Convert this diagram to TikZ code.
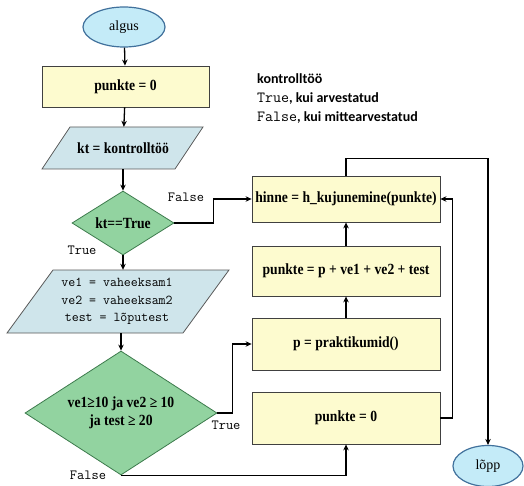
\documentclass[tikz,border=0pt]{standalone}
\usepackage{fontspec}
\setmainfont{Liberation Serif}
\newfontfamily\boxfont{Liberation Serif}[FakeStretch=0.88]
\newfontfamily\notefont{Carlito}
\usetikzlibrary{shapes.geometric,arrows.meta}

\definecolor{termfill}{HTML}{C4EBF8}
\definecolor{termline}{HTML}{41719C}
\definecolor{procfill}{HTML}{FDFBCF}
\definecolor{procline}{HTML}{404040}
\definecolor{iofill}{HTML}{CFE5EB}
\definecolor{ioline}{HTML}{595959}
\definecolor{decfill}{HTML}{92D3A0}
\definecolor{decline}{HTML}{3C7A4C}

\tikzset{
  x=1pt, y=-1pt,
  boxtext/.style={font=\fontsize{15.5}{18}\selectfont\boxfont\bfseries},
  term/.style={ellipse, draw=termline, fill=termfill, line width=1.2pt,
    minimum width=82pt, minimum height=40pt, inner sep=0pt,
    font=\fontsize{14}{16}\selectfont},
  proc/.style={rectangle, draw=procline, fill=procfill, line width=0.8pt,
    minimum width=188pt, inner sep=0pt, boxtext},
  iobox/.style={fill=iofill, draw=ioline, line width=0.8pt},
  iotext/.style={rectangle, inner sep=0pt, align=center},
  dec/.style={diamond, draw=decline, fill=decfill, line width=0.8pt, inner sep=0pt,
    boxtext, align=center},
  conn/.style={draw, line width=1.3pt, -{Stealth[length=6pt,width=5.5pt]}},
  lab/.style={font=\fontsize{14}{16}\selectfont\ttfamily, inner sep=0pt},
  note/.style={anchor=base west, inner sep=0pt, font=\fontsize{14}{16}\selectfont\notefont\bfseries}
}

\begin{document}
\begin{tikzpicture}
\useasboundingbox (0,0) rectangle (524,486);

% left column
\node[term] (start) at (124,27) {algus};
\node[proc, minimum width=167pt, minimum height=41pt] (init) at (125.5,86.5) {punkte = 0};

\path[iobox] (70,127) -- (203,127) -- (175,169) -- (42,169) -- cycle;
\node[iotext, minimum height=42pt, boxtext] (kt) at (123,148) {kt = kontrolltöö};

\node[dec, minimum width=102pt, minimum height=64pt, shape aspect=1.6] (check) at (123,223) {kt==True};

\path[iobox] (53,270) -- (229,270) -- (183,333) -- (7,333) -- cycle;
\node[iotext, minimum height=63pt, font=\fontsize{13.5}{17.5}\selectfont\ttfamily] (marks) at (117,301.5)
  {ve1 = vaheeksam1\\ve2 = vaheeksam2\\test = lõputest};

\node[dec, minimum width=192pt, minimum height=124pt, shape aspect=1.55] (cond) at (121,413)
  {ve1≥10 ja ve2 ≥ 10\\ja test ≥ 20};

% right column
\node[proc, minimum height=46pt] (grade) at (346,199) {hinne = h\_kujunemine(punkte)};
\node[proc, minimum height=50pt] (sum) at (346,271) {punkte = p + ve1 + ve2 + test};
\node[proc, minimum height=52pt] (prac) at (346,344) {p = praktikumid()};
\node[proc, minimum height=52pt] (zero) at (346,418) {punkte = 0};
\node[term, minimum width=70pt, minimum height=41pt] (stop) at (488,466) {lõpp};

% explanation of kt
\node[note] (n1) at (257,84) {kontrolltöö};
\node[note] (n2) at (257,103) {{\fontsize{15.5}{16}\selectfont\ttfamily\mdseries True}, kui arvestatud};
\node[note] (n3) at (257,122) {{\fontsize{15.5}{16}\selectfont\ttfamily\mdseries False}, kui mittearvestatud};

% branch labels
\node[lab] (f1) at (186,197) {False};
\node[lab] (t1) at (82,250) {True};
\node[lab] (t2) at (226,425) {True};
\node[lab] (f2) at (88,475) {False};

% connectors
\draw[conn] (start) -- (init);
\draw[conn] (init) -- (kt);
\draw[conn] (kt) -- (check);
\draw[conn] (check.south) -- (check.south |- marks.north);
\draw[conn] (marks.south -| cond.north) -- (cond.north);
\draw[conn] (check.east) -- ++(39,0) |- (grade.west);
\draw[conn] (cond.east) -- ++(15,0) |- (prac.west);
\draw[conn] (cond.south) -| (zero.south);
\draw[conn] (prac) -- (sum);
\draw[conn] (sum) -- (grade);
\draw[conn] (zero.east) -- ++(12,0) |- (grade.east);
\draw[conn] (grade.north) -- ++(0,-17) -| (stop.north);
\end{tikzpicture}
\end{document}
